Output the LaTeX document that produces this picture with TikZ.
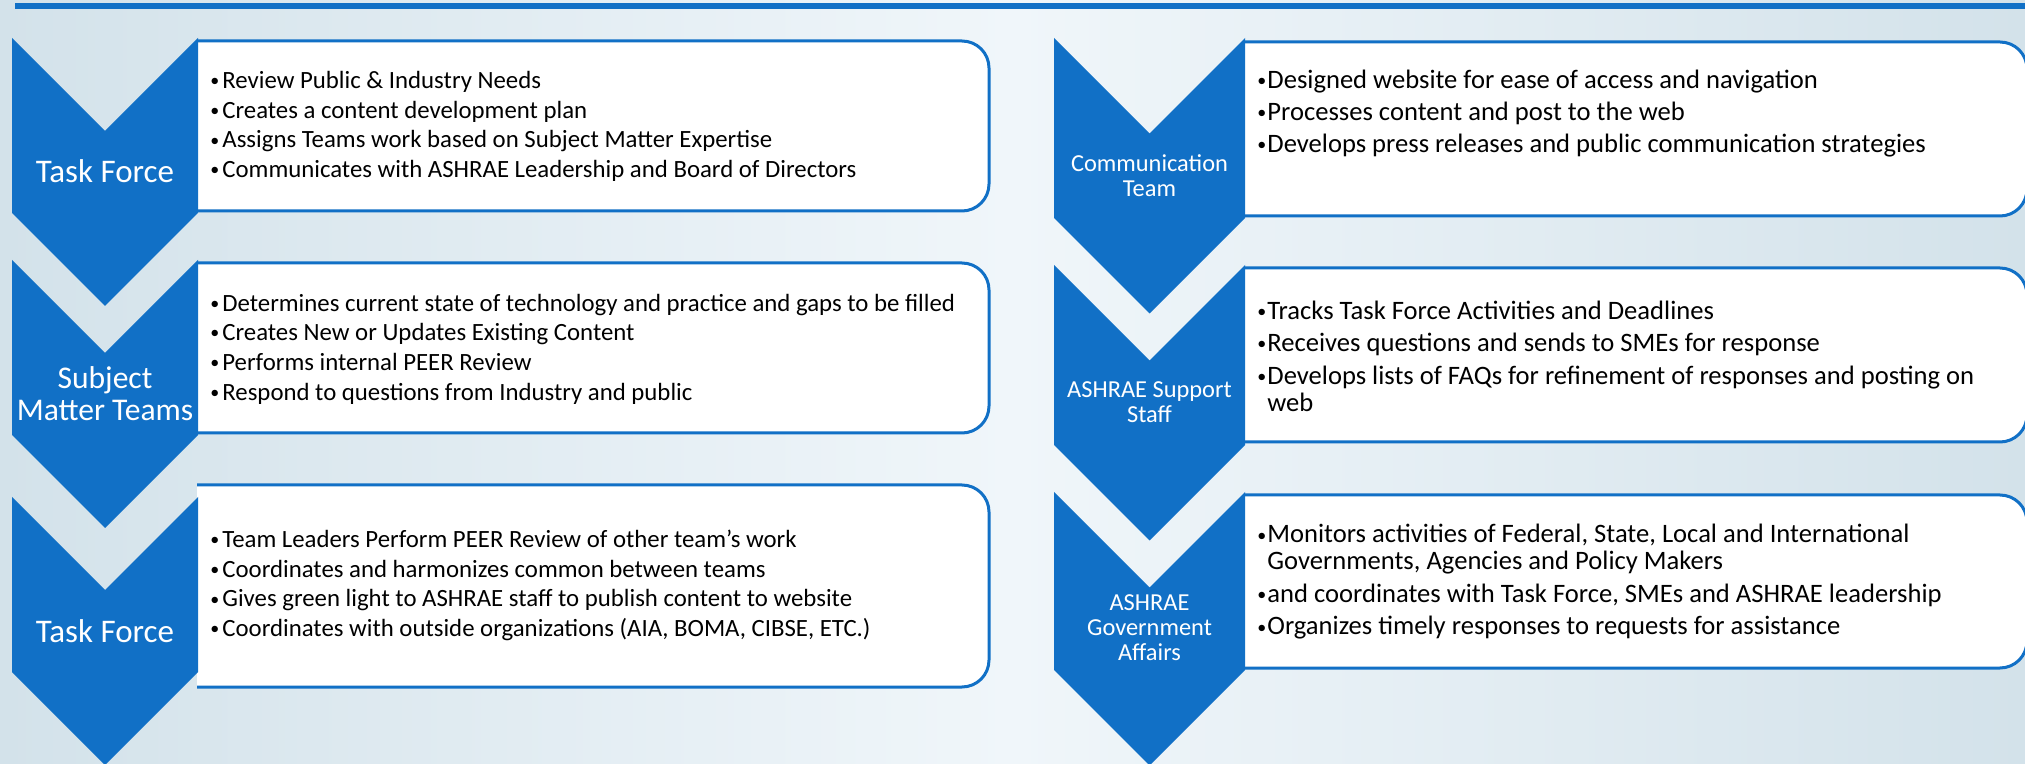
\documentclass[tikz,border=0pt]{standalone}
\usepackage{fontspec}
\setmainfont{Carlito}
\usetikzlibrary{positioning}
\definecolor{chevblue}{HTML}{1170C6}
\definecolor{bgside}{HTML}{D3E2EA}
\definecolor{bgmid}{HTML}{F0F6FA}
\tikzset{
  chev/.style={fill=chevblue},
  frame/.style={draw=chevblue, fill=white, line width=1.5pt, rounded corners=13.5pt},
  lbl/.style={text=white, align=center, inner sep=0pt,
              font=\fontsize{16.5}{16}\selectfont},
  slbl/.style={text=white, align=center, inner sep=0pt,
               font=\fontsize{12.2}{12.5}\selectfont},
  itm/.style={anchor=west, align=left, inner sep=0pt,
              font=\fontsize{12.4}{14.85}\selectfont},
  ritm/.style={anchor=west, align=left, inner sep=0pt,
               font=\fontsize{13.3}{13.5}\selectfont},
}
% small bullet, kept on the x-height
\newcommand{\smallbul}{\raisebox{0.9pt}{\fontsize{9}{9}\selectfont\textbullet}}
\newcommand{\lbul}{\makebox[6.5pt][l]{\hspace{0.5pt}\smallbul}}
\newcommand{\rbul}{\makebox[5pt][l]{\smallbul}}

\begin{document}
\begin{tikzpicture}[x=0.5pt,y=-0.5pt]
  \useasboundingbox (0,0) rectangle (2025,764);
  \shade[left color=bgside, right color=bgside, middle color=bgmid]
    (0,0) rectangle (2025,764);
  \fill[chevblue] (15,3) rectangle (2025,9.3);

  % text panels
  \draw[frame] (198,41)  -| (989,211) -- (198,211);
  \draw[frame] (198,263) -| (989,433) -- (198,433);
  \draw[frame] (197,485) -| (989,687) -- (197,687);
  \draw[frame] (1245,42)  -| (2027,216) -- (1245,216);
  \draw[frame] (1245,268) -| (2027,442) -- (1245,442);
  \draw[frame] (1245,495) -| (2027,668) -- (1245,668);

  % chevrons: left x, right x, top, bottom of straight part
  \foreach \l/\r/\t/\b in {12/198/38/213, 12/198/260/435, 12/198/497/672,
                           1054/1245/38/218, 1054/1245/265/445, 1054/1245/492/670}
    \fill[chev] (\l,\t) -- ({(\l+\r)/2},{\t+(\r-\l)/2}) -- (\r,\t) -- (\r,\b)
      -- ({(\l+\r)/2},{\b+(\r-\l)/2}) -- (\l,\b) -- cycle;

  \node[lbl]  (tf1)   at (105,171.5)    {Task Force};
  \node[lbl, font=\fontsize{15.8}{16}\selectfont]
              (smt)   at (105,393.5)    {Subject\\Matter Teams};
  \node[lbl]  (tf2)   at (105,631)      {Task Force};
  \node[slbl] (comm)  at (1149.5,175.5) {Communication\\Team};
  \node[slbl] (staff) at (1149.5,402.5) {ASHRAE Support\\Staff};
  \node[slbl] (gov)   at (1149.5,627.5) {ASHRAE\\Government\\Affairs};

  \node[itm] (tf1txt) at (209,126.5) {%
    \lbul Review Public \& Industry Needs\\
    \lbul Creates a content development plan\\
    \lbul Assigns Teams work based on Subject Matter Expertise\\
    \lbul Communicates with ASHRAE Leadership and Board of Directors};
  \node[itm] (smttxt) at (209,349) {%
    \lbul Determines current state of technology and practice and gaps to be filled\\
    \lbul Creates New or Updates Existing Content\\
    \lbul Performs internal PEER Review\\
    \lbul Respond to questions from Industry and public};
  \node[itm] (tf2txt) at (209,585.5) {%
    \lbul Team Leaders Perform PEER Review of other team’s work\\
    \lbul Coordinates and harmonizes common between teams\\
    \lbul Gives green light to ASHRAE staff to publish content to website\\
    \lbul Coordinates with outside organizations (AIA, BOMA, CIBSE, ETC.)};

  \node[ritm] (commtxt) at (1257,113.5) {%
    \rbul Designed website for ease of access and navigation\\[2.5pt]
    \rbul Processes content and post to the web\\[2.5pt]
    \rbul Develops press releases and public communication strategies};
  \node[ritm] (stafftxt) at (1257,356) {%
    \rbul Tracks Task Force Activities and Deadlines\\[2.75pt]
    \rbul Receives questions and sends to SMEs for response\\[2.75pt]
    \rbul Develops lists of FAQs for refinement of responses and posting on\\
    \hspace*{5pt}web};
  \node[ritm] (govtxt) at (1257,582) {%
    \rbul Monitors activities of Federal, State, Local and International\\
    \hspace*{5pt}Governments, Agencies and Policy Makers\\[2.75pt]
    \rbul and coordinates with Task Force, SMEs and ASHRAE leadership\\[2.75pt]
    \rbul Organizes timely responses to requests for assistance};
\end{tikzpicture}
\end{document}
